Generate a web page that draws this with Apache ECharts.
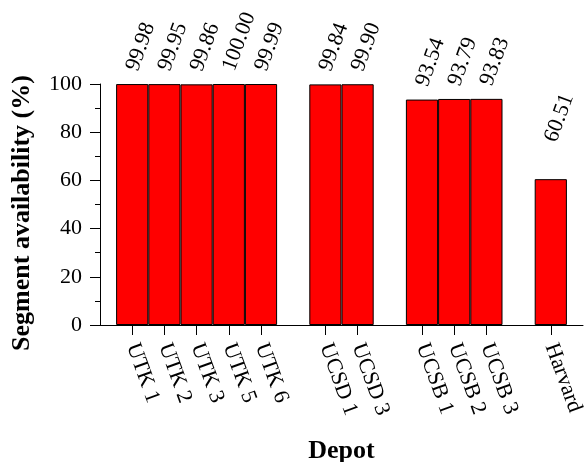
<!DOCTYPE html>
<html>
<head>
<meta charset="utf-8">
<script src="https://cdn.jsdelivr.net/npm/echarts@6/dist/echarts.min.js"></script>
<style>html,body{margin:0;padding:0;background:#fff;}#c{width:585px;height:462px;}</style>
</head>
<body>
<div id="c"></div>
<script>
// '' entries are spacer slots between depot groups (and the edges)
var categories = ['', 'UTK 1', 'UTK 2', 'UTK 3', 'UTK 5', 'UTK 6', '', 'UCSD 1', 'UCSD 3', '', 'UCSB 1', 'UCSB 2', 'UCSB 3', '', 'Harvard', ''];
var availability = [null, 99.98, 99.95, 99.86, 100.00, 99.99, null, 99.84, 99.90, null, 93.54, 93.79, 93.83, null, 60.51, null];
var yTicks = [0, 20, 40, 60, 80, 100];

var font = 'Liberation Serif';
var seriesData = availability.map(function (v, i) {
  if (categories[i] === 'Harvard') return {value: v, label: {distance: 38}};
  return v;
});
var chart = echarts.init(document.getElementById('c'), null, {renderer: 'canvas'});
chart.setOption({
  animation: false,
  grid: {left: 100, right: 2, top: 84, bottom: 137, containLabel: false, outerBoundsMode: 'none'},
  xAxis: {
    type: 'category',
    data: categories,
    boundaryGap: false,
    name: 'Depot',
    nameLocation: 'middle',
    nameGap: 113,
    nameTextStyle: {fontFamily: font, fontWeight: 'bold', fontSize: 26, color: '#000'},
    axisLine: {lineStyle: {color: '#000', width: 1}},
    axisTick: {length: 10, lineStyle: {color: '#000'}, interval: function (i, v) { return v !== ''; }},
    axisLabel: {
      interval: 0, rotate: -70, margin: 19,
      fontFamily: font, fontSize: 22, color: '#000'
    },
    splitLine: {show: false}
  },
  yAxis: {
    type: 'value',
    min: yTicks[0], max: yTicks[yTicks.length - 1], interval: 20,
    name: 'Segment availability (%)',
    nameLocation: 'middle',
    nameGap: 65,
    nameTextStyle: {fontFamily: font, fontWeight: 'bold', fontSize: 26, color: '#000', padding: [0, 17, 0, 0]},
    axisLine: {show: true, lineStyle: {color: '#000', width: 1}},
    axisTick: {show: true, length: 10, lineStyle: {color: '#000'}},
    minorTick: {show: true, splitNumber: 2, length: 5, lineStyle: {color: '#000'}},
    axisLabel: {margin: 18, fontFamily: font, fontSize: 22, color: '#000'},
    splitLine: {show: false}
  },
  series: [{
    type: 'bar',
    data: seriesData,
    barWidth: '100%',
    itemStyle: {color: '#ff0000', borderColor: '#000', borderWidth: 1},
    label: {
      show: true, position: 'top', rotate: 70, align: 'left', verticalAlign: 'middle',
      distance: 14,
      fontFamily: font, fontSize: 22, color: '#000',
      formatter: function (p) { return p.value.toFixed(2); }
    }
  }]
});
</script>
</body>
</html>
